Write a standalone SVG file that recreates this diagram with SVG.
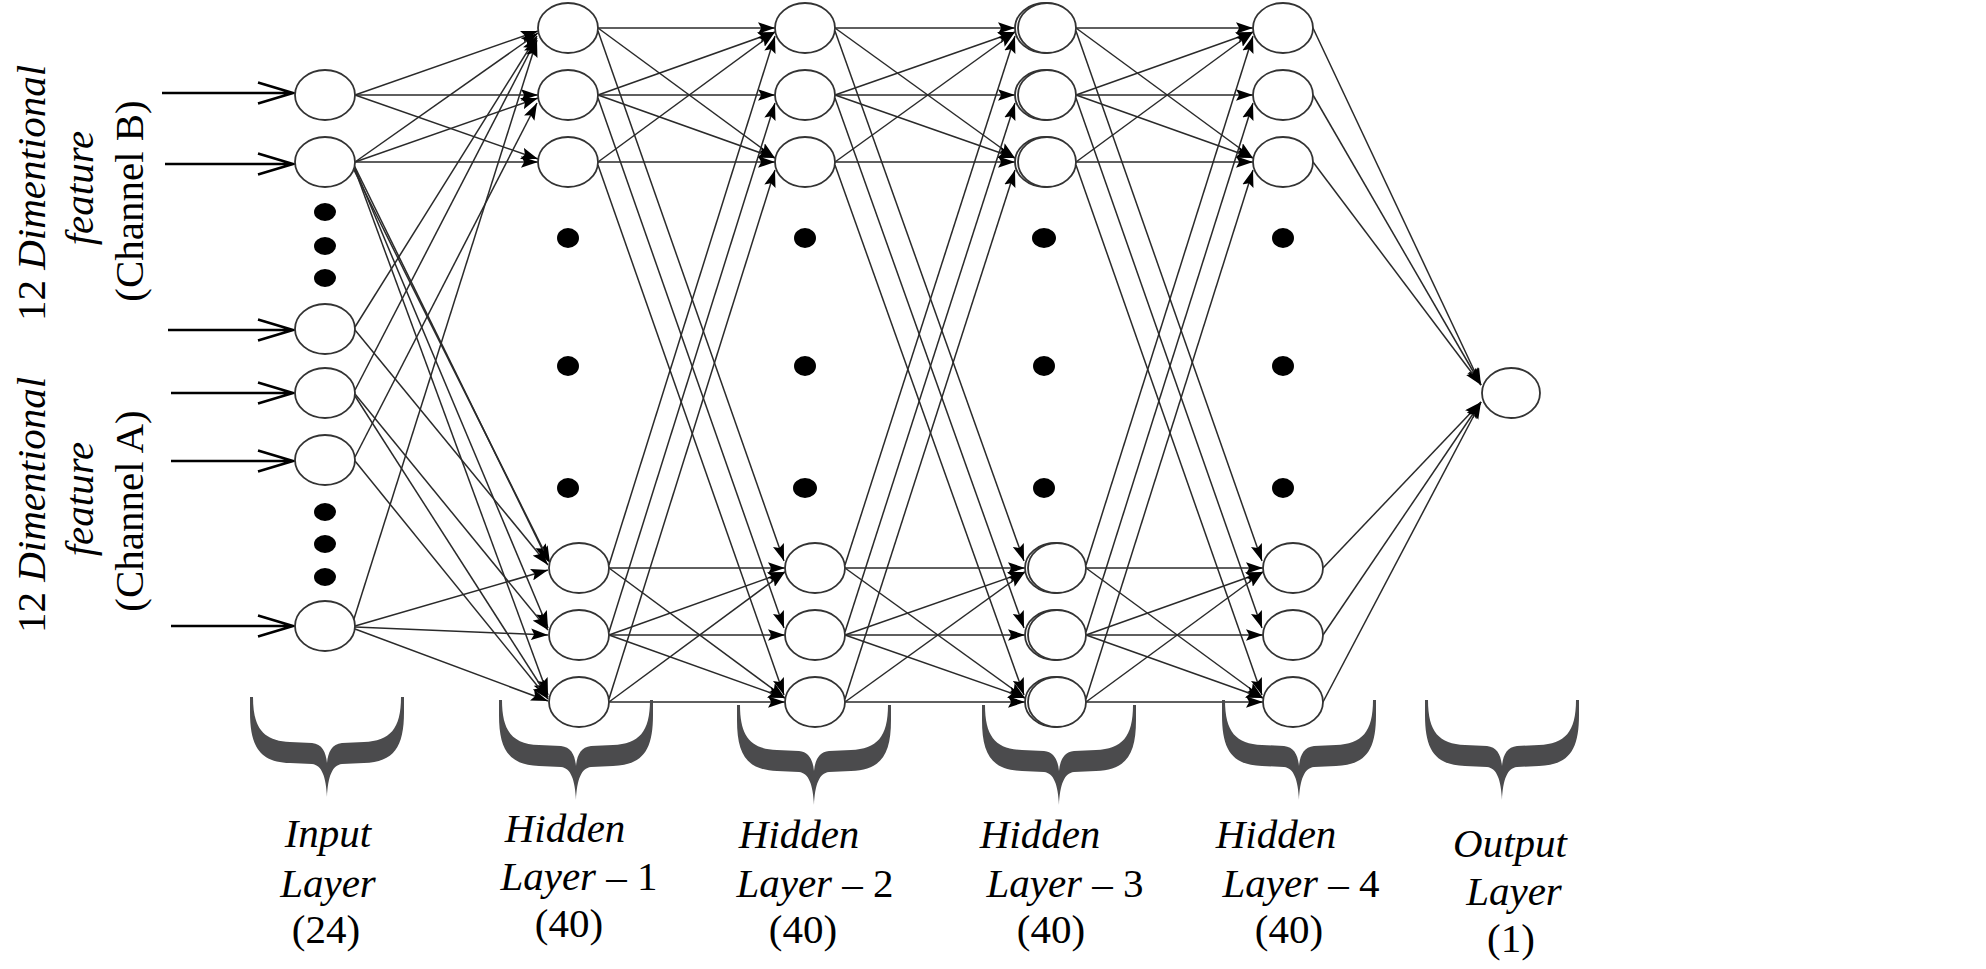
<svg xmlns="http://www.w3.org/2000/svg" width="1986" height="969" viewBox="0 0 1986 969">
<style>
.node{fill:#fff;stroke:#333;stroke-width:1.8}
.dot{fill:#000}
.conn line{stroke:#2a2a2a;stroke-width:1.5;fill:none;marker-end:url(#ah)}
.inarr{stroke:#000;stroke-width:2.6;fill:none}
.brace{fill:#4b4b4d}
text{font-family:"Liberation Serif","Times New Roman",serif;font-size:41px;fill:#000}
.it{font-style:italic}
.rm{font-style:normal}
</style>
<defs>
<marker id="ah" markerUnits="userSpaceOnUse" markerWidth="17" markerHeight="12" viewBox="0 0 16 11" refX="16" refY="5.5" orient="auto">
<path d="M0,0 L16,5.5 L0,11 L3,5.5 Z" fill="#000"/>
</marker>
<path id="brace" d="M0,0 L0,15 C0,50 10,65 40,66 L62,67 C72,68 76,80 77,100 C78,80 82,68 92,67 L114,66 C144,65 154,50 154,15 L154,0 L151,0 C151,32 140,44 114,45 L92,46 C82,47 78,55 77,66 C76,55 72,47 62,46 L40,45 C14,44 3,32 3,0 Z"/>
</defs>
<rect width="1986" height="969" fill="#fff"/>

<g id="input-labels">
<text transform="translate(45,193) rotate(-90)" text-anchor="middle" class="it"><tspan class="rm">12 </tspan>Dimentional</text>
<text transform="translate(93,188) rotate(-90)" text-anchor="middle" class="it">feature</text>
<text transform="translate(143,201) rotate(-90)" text-anchor="middle">(Channel B)</text>
<text transform="translate(45,505) rotate(-90)" text-anchor="middle" class="it"><tspan class="rm">12 </tspan>Dimentional</text>
<text transform="translate(93,499) rotate(-90)" text-anchor="middle" class="it">feature</text>
<text transform="translate(143,511) rotate(-90)" text-anchor="middle">(Channel A)</text>
</g>

<g id="input-arrows" class="inarr">
<path d="M162,93 H293 M258,82.5 L293,93 L258,103.5"/>
<path d="M165,164 H293 M258,153.5 L293,164 L258,174.5"/>
<path d="M168,330 H293 M258,319.5 L293,330 L258,340.5"/>
<path d="M171,393 H293 M258,382.5 L293,393 L258,403.5"/>
<path d="M171,461 H293 M258,450.5 L293,461 L258,471.5"/>
<path d="M171,626 H293 M258,615.5 L293,626 L258,636.5"/>
</g>

<g id="connectors" class="conn">
<!-- input to hidden 1 -->
<line x1="355" y1="95" x2="538" y2="31"/>
<line x1="355" y1="95" x2="538" y2="95"/>
<line x1="355" y1="95" x2="538" y2="159"/>
<line x1="355" y1="162" x2="538" y2="33"/>
<line x1="355" y1="162" x2="538" y2="98"/>
<line x1="355" y1="162" x2="538" y2="162"/>
<line x1="354" y1="165" x2="548" y2="561"/>
<line x1="354" y1="166" x2="548" y2="628"/>
<line x1="354" y1="167" x2="548" y2="695"/>
<line x1="353" y1="168" x2="550" y2="563"/>
<line x1="355" y1="327" x2="537" y2="36"/>
<line x1="355" y1="330" x2="548" y2="565"/>
<line x1="355" y1="390" x2="537" y2="38"/>
<line x1="355" y1="394" x2="548" y2="630"/>
<line x1="355" y1="396" x2="548" y2="697"/>
<line x1="355" y1="457" x2="537" y2="103"/>
<line x1="355" y1="461" x2="548" y2="699"/>
<line x1="353" y1="622" x2="537" y2="40"/>
<line x1="355" y1="626" x2="548" y2="570"/>
<line x1="355" y1="627" x2="548" y2="635"/>
<line x1="355" y1="629" x2="548" y2="701"/>
<!-- hidden 1 to hidden 2 -->
<line x1="598" y1="28" x2="775" y2="28"/>
<line x1="598" y1="28" x2="775" y2="158"/>
<line x1="598" y1="95" x2="775" y2="32"/>
<line x1="598" y1="95" x2="775" y2="95"/>
<line x1="598" y1="95" x2="775" y2="158"/>
<line x1="598" y1="162" x2="775" y2="32"/>
<line x1="598" y1="162" x2="775" y2="162"/>
<line x1="598" y1="31" x2="784" y2="561"/>
<line x1="598" y1="98" x2="784" y2="628"/>
<line x1="598" y1="165" x2="784" y2="695"/>
<line x1="609" y1="565" x2="775" y2="36"/>
<line x1="609" y1="632" x2="775" y2="103"/>
<line x1="609" y1="699" x2="775" y2="170"/>
<line x1="609" y1="568" x2="785" y2="568"/>
<line x1="609" y1="568" x2="785" y2="698"/>
<line x1="609" y1="635" x2="785" y2="572"/>
<line x1="609" y1="635" x2="785" y2="635"/>
<line x1="609" y1="635" x2="785" y2="698"/>
<line x1="609" y1="702" x2="785" y2="572"/>
<line x1="609" y1="702" x2="785" y2="702"/>
<!-- hidden 2 to hidden 3 -->
<line x1="835" y1="28" x2="1015" y2="28"/>
<line x1="835" y1="28" x2="1015" y2="158"/>
<line x1="835" y1="95" x2="1015" y2="32"/>
<line x1="835" y1="95" x2="1015" y2="95"/>
<line x1="835" y1="95" x2="1015" y2="158"/>
<line x1="835" y1="162" x2="1015" y2="32"/>
<line x1="835" y1="162" x2="1015" y2="162"/>
<line x1="835" y1="31" x2="1024" y2="561"/>
<line x1="835" y1="98" x2="1024" y2="628"/>
<line x1="835" y1="165" x2="1024" y2="695"/>
<line x1="845" y1="565" x2="1015" y2="36"/>
<line x1="845" y1="632" x2="1015" y2="103"/>
<line x1="845" y1="699" x2="1015" y2="170"/>
<line x1="845" y1="568" x2="1025" y2="568"/>
<line x1="845" y1="568" x2="1025" y2="698"/>
<line x1="845" y1="635" x2="1025" y2="572"/>
<line x1="845" y1="635" x2="1025" y2="635"/>
<line x1="845" y1="635" x2="1025" y2="698"/>
<line x1="845" y1="702" x2="1025" y2="572"/>
<line x1="845" y1="702" x2="1025" y2="702"/>
<!-- hidden 3 to hidden 4 -->
<line x1="1076" y1="28" x2="1253" y2="28"/>
<line x1="1076" y1="28" x2="1253" y2="158"/>
<line x1="1076" y1="95" x2="1253" y2="32"/>
<line x1="1076" y1="95" x2="1253" y2="95"/>
<line x1="1076" y1="95" x2="1253" y2="158"/>
<line x1="1076" y1="162" x2="1253" y2="32"/>
<line x1="1076" y1="162" x2="1253" y2="162"/>
<line x1="1076" y1="31" x2="1262" y2="561"/>
<line x1="1076" y1="98" x2="1262" y2="628"/>
<line x1="1076" y1="165" x2="1262" y2="695"/>
<line x1="1086" y1="565" x2="1253" y2="36"/>
<line x1="1086" y1="632" x2="1253" y2="103"/>
<line x1="1086" y1="699" x2="1253" y2="170"/>
<line x1="1086" y1="568" x2="1263" y2="568"/>
<line x1="1086" y1="568" x2="1263" y2="698"/>
<line x1="1086" y1="635" x2="1263" y2="572"/>
<line x1="1086" y1="635" x2="1263" y2="635"/>
<line x1="1086" y1="635" x2="1263" y2="698"/>
<line x1="1086" y1="702" x2="1263" y2="572"/>
<line x1="1086" y1="702" x2="1263" y2="702"/>
<!-- hidden 4 to output -->
<line x1="1313" y1="28" x2="1481" y2="385"/>
<line x1="1313" y1="95" x2="1481" y2="385"/>
<line x1="1313" y1="162" x2="1481" y2="385"/>
<line x1="1323" y1="568" x2="1481" y2="402"/>
<line x1="1323" y1="635" x2="1481" y2="402"/>
<line x1="1323" y1="702" x2="1481" y2="402"/>
</g>

<g id="input-layer">
<ellipse class="node" cx="325" cy="95" rx="30" ry="25"/>
<ellipse class="node" cx="325" cy="162" rx="30" ry="25"/>
<ellipse class="dot" cx="325" cy="212" rx="11" ry="9"/>
<ellipse class="dot" cx="325" cy="246" rx="11" ry="9"/>
<ellipse class="dot" cx="325" cy="278" rx="11" ry="9"/>
<ellipse class="node" cx="325" cy="329" rx="30" ry="25"/>
<ellipse class="node" cx="325" cy="393" rx="30" ry="25"/>
<ellipse class="node" cx="325" cy="460" rx="30" ry="25"/>
<ellipse class="dot" cx="325" cy="512" rx="11" ry="9"/>
<ellipse class="dot" cx="325" cy="544" rx="11" ry="9"/>
<ellipse class="dot" cx="325" cy="577" rx="11" ry="9"/>
<ellipse class="node" cx="325" cy="626" rx="30" ry="25"/>
</g>

<g id="hidden-layer-1">
<ellipse class="node" cx="568" cy="28" rx="30" ry="25"/>
<ellipse class="node" cx="568" cy="95" rx="30" ry="25"/>
<ellipse class="node" cx="568" cy="162" rx="30" ry="25"/>
<ellipse class="dot" cx="568" cy="238" rx="11" ry="10"/>
<ellipse class="dot" cx="568" cy="366" rx="11" ry="10"/>
<ellipse class="dot" cx="568" cy="488" rx="11" ry="10"/>
<ellipse class="node" cx="579" cy="568" rx="30" ry="25"/>
<ellipse class="node" cx="579" cy="635" rx="30" ry="25"/>
<ellipse class="node" cx="579" cy="702" rx="30" ry="25"/>
</g>

<g id="hidden-layer-2">
<ellipse class="node" cx="805" cy="28" rx="30" ry="25"/>
<ellipse class="node" cx="805" cy="95" rx="30" ry="25"/>
<ellipse class="node" cx="805" cy="162" rx="30" ry="25"/>
<ellipse class="dot" cx="805" cy="238" rx="11" ry="10"/>
<ellipse class="dot" cx="805" cy="366" rx="11" ry="10"/>
<ellipse class="dot" cx="805" cy="488" rx="12" ry="10"/>
<ellipse class="node" cx="815" cy="568" rx="30" ry="25"/>
<ellipse class="node" cx="815" cy="635" rx="30" ry="25"/>
<ellipse class="node" cx="815" cy="702" rx="30" ry="25"/>
</g>

<g id="hidden-layer-3">
<ellipse class="node" cx="1045" cy="28" rx="30" ry="25"/>
<ellipse class="node" cx="1047" cy="28" rx="29" ry="25" fill="none"/>
<ellipse class="node" cx="1045" cy="95" rx="30" ry="25"/>
<ellipse class="node" cx="1047" cy="95" rx="29" ry="25" fill="none"/>
<ellipse class="node" cx="1045" cy="162" rx="30" ry="25"/>
<ellipse class="node" cx="1047" cy="162" rx="29" ry="25" fill="none"/>
<ellipse class="dot" cx="1044" cy="238" rx="12" ry="10"/>
<ellipse class="dot" cx="1044" cy="366" rx="11" ry="10"/>
<ellipse class="dot" cx="1044" cy="488" rx="11" ry="10"/>
<ellipse class="node" cx="1055" cy="568" rx="30" ry="25"/>
<ellipse class="node" cx="1057" cy="568" rx="29" ry="25" fill="none"/>
<ellipse class="node" cx="1055" cy="635" rx="30" ry="25"/>
<ellipse class="node" cx="1057" cy="635" rx="29" ry="25" fill="none"/>
<ellipse class="node" cx="1055" cy="702" rx="30" ry="25"/>
<ellipse class="node" cx="1057" cy="702" rx="29" ry="25" fill="none"/>
</g>

<g id="hidden-layer-4">
<ellipse class="node" cx="1283" cy="28" rx="30" ry="25"/>
<ellipse class="node" cx="1283" cy="95" rx="30" ry="25"/>
<ellipse class="node" cx="1283" cy="162" rx="30" ry="25"/>
<ellipse class="dot" cx="1283" cy="238" rx="11" ry="10"/>
<ellipse class="dot" cx="1283" cy="366" rx="11" ry="10"/>
<ellipse class="dot" cx="1283" cy="488" rx="11" ry="10"/>
<ellipse class="node" cx="1293" cy="568" rx="30" ry="25"/>
<ellipse class="node" cx="1293" cy="635" rx="30" ry="25"/>
<ellipse class="node" cx="1293" cy="702" rx="30" ry="25"/>
</g>

<g id="output-layer">
<ellipse class="node" cx="1511" cy="393" rx="29" ry="25"/>
</g>

<g id="braces" class="brace">
<use href="#brace" transform="translate(250,697)"/>
<use href="#brace" transform="translate(499,700)"/>
<use href="#brace" transform="translate(737,705)"/>
<use href="#brace" transform="translate(982,705)"/>
<use href="#brace" transform="translate(1222,700)"/>
<use href="#brace" transform="translate(1425,700)"/>
</g>

<g id="layer-labels" text-anchor="middle">
<text x="328" y="847" class="it">Input</text>
<text x="328" y="897" class="it">Layer</text>
<text x="326" y="943">(24)</text>
<text x="565" y="842" class="it">Hidden</text>
<text x="579" y="890"><tspan class="it">Layer</tspan> – 1</text>
<text x="569" y="937">(40)</text>
<text x="799" y="848" class="it">Hidden</text>
<text x="815" y="897"><tspan class="it">Layer</tspan> – 2</text>
<text x="803" y="943">(40)</text>
<text x="1040" y="848" class="it">Hidden</text>
<text x="1065" y="897"><tspan class="it">Layer</tspan> – 3</text>
<text x="1051" y="943">(40)</text>
<text x="1276" y="848" class="it">Hidden</text>
<text x="1301" y="897"><tspan class="it">Layer</tspan> – 4</text>
<text x="1289" y="943">(40)</text>
<text x="1510" y="857" class="it">Output</text>
<text x="1514" y="905" class="it">Layer</text>
<text x="1511" y="952">(1)</text>
</g>
</svg>
